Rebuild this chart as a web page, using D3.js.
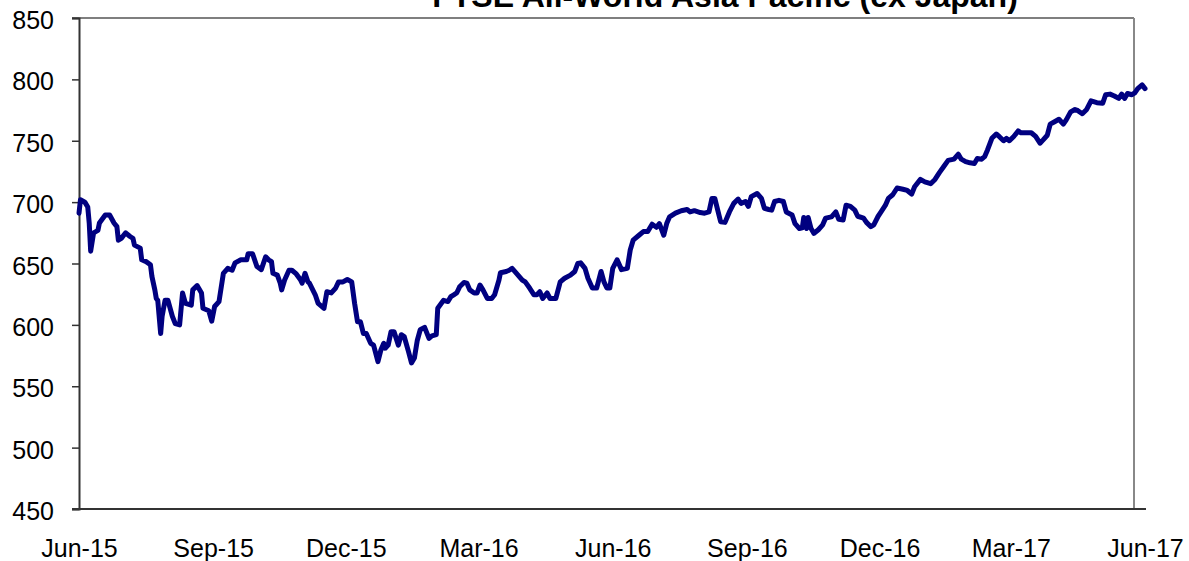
<!DOCTYPE html>
<html>
<head>
<meta charset="utf-8">
<script src="https://cdn.jsdelivr.net/npm/d3@7"></script>
<style>
  body { margin: 0; background: #fff; }
  svg { display: block; }
  text { font-family: "Liberation Sans", Arial, sans-serif; fill: #000; }
</style>
</head>
<body>
<svg id="chart" width="1189" height="561"></svg>
<script>
const TITLE = "FTSE All-World Asia Pacific (ex Japan)";
const START_DATE = new Date(2015, 5, 1);
const END_DATE = new Date(2017, 5, 1);

// days since 1 Jun 2015
const dayOffsets = [
  0, 1, 4, 6, 7, 8, 10, 13, 14, 18,
  21, 24, 26, 27, 29, 32, 35, 37, 38, 42,
  43, 46, 49, 50, 52, 53, 54, 56, 57, 59,
  61, 64, 66, 69, 71, 73, 77, 78, 81, 84,
  85, 89, 91, 93, 96, 99, 102, 105, 107, 111,
  115, 116, 119, 122, 125, 128, 130, 132, 133, 136,
  138, 139, 141, 144, 146, 149, 152, 153, 155, 157,
  158, 162, 164, 168, 170, 173, 176, 178, 181, 184,
  187, 189, 191, 193, 195, 197, 200, 202, 205, 207,
  209, 210, 212, 214, 216, 219, 221, 223, 226, 228,
  230, 232, 234, 237, 240, 242, 245, 246, 250, 253,
  255, 257, 259, 261, 264, 266, 268, 271, 273, 275,
  277, 280, 283, 285, 288, 289, 293, 295, 297, 300,
  304, 306, 309, 312, 314, 316, 318, 321, 323, 327,
  330, 333, 337, 340, 342, 344, 347, 349, 352, 355,
  358, 360, 362, 364, 366, 369, 372, 376, 378, 380,
  384, 387, 390, 393, 396, 398, 401, 403, 405, 409,
  413, 417, 419, 422, 426, 429, 432, 434, 436, 438,
  440, 443, 446, 449, 452, 454, 457, 459, 461, 465,
  468, 470, 473, 475, 477, 480, 483, 485, 489, 491,
  494, 496, 497, 499, 500, 502, 504, 507, 510, 512,
  516, 519, 521, 524, 526, 529, 532, 534, 538, 540,
  543, 545, 548, 550, 553, 555, 558, 561, 565, 568,
  571, 573, 577, 580, 584, 587, 590, 593, 596, 600,
  603, 605, 608, 611, 614, 616, 619, 621, 623, 626,
  629, 631, 634, 636, 638, 641, 644, 646, 650, 653,
  656, 659, 661, 664, 666, 669, 672, 675, 677, 680,
  683, 685, 688, 691, 694, 698, 702, 704, 707, 710,
  713, 715, 717, 719, 722, 724, 726, 729, 731
];

const indexValues = [
  691, 702, 700, 696, 683, 660, 675, 677, 683, 689.5,
  689.5, 683, 680, 669, 670.5, 675, 672, 670.5, 665, 662.5,
  653, 651.5, 649, 639.5, 628.5, 621.5, 620, 593, 607, 620,
  620, 607, 601, 600, 626, 617.5, 616, 628.5, 632, 626,
  613.5, 611.5, 603, 615, 619, 642, 646, 644.5, 650.5, 653,
  653, 658, 658, 647.5, 645, 655.5, 653, 651.5, 642, 640.5,
  634, 628.5, 636.5, 644.5, 644.5, 641.5, 636.5, 634, 642, 635,
  634, 624.5, 617.5, 613.5, 627, 626, 630, 635, 635, 637,
  635, 617.5, 602.5, 602.5, 593, 593, 585, 583.5, 570, 579.5,
  585, 581, 583.5, 594.5, 594.5, 583.5, 592, 590.5, 578, 569,
  573, 587.5, 596, 598, 589, 591, 592, 613.5, 620, 619,
  623, 624.5, 626, 631, 634.5, 634, 628.5, 626, 626, 632.5,
  628.5, 621.5, 621.5, 624.5, 636.5, 642.5, 643.5, 644.5, 646, 642,
  636.5, 635, 630, 624.5, 624.5, 627, 621.5, 626, 621.5, 621.5,
  635, 638, 640.5, 643.5, 650, 650.5, 646, 638, 630, 630,
  643.5, 635, 630, 630, 646, 653, 645, 646, 661, 669,
  673, 676, 676, 682, 679.5, 682.5, 673, 682.5, 688, 691,
  693, 694, 692, 693, 691.5, 691, 692, 703, 703, 693.5,
  684, 683.5, 692, 699, 702.5, 699, 700.5, 696.5, 704.5, 707,
  703, 695, 694, 693.5, 700.5, 701.5, 700.5, 692, 689.5, 682.5,
  678.5, 679, 687.5, 678.5, 687.5, 678.5, 674.5, 677.5, 681.5, 687,
  688, 692, 686, 685.5, 697.5, 696.5, 693.5, 688.5, 687, 683.5,
  680, 681.5, 688.5, 692, 697.5, 703, 706, 711.5, 710.5, 709.5,
  706.5, 712.5, 718.5, 716.5, 715, 718.5, 724, 729, 734, 735,
  739, 735, 733, 732, 731.5, 735.5, 735, 737, 742.5, 752,
  755.5, 753.5, 750, 752, 750, 753.5, 758, 756.5, 756.5, 756.5,
  753.5, 748, 750.5, 754.5, 763.5, 765.5, 767.5, 763.5, 767, 773.5,
  775.5, 774.5, 772, 775.5, 782.5, 781, 780.5, 787.5, 788, 786.5,
  784.5, 788, 784.5, 788.5, 787.5, 789, 792.5, 795.5, 792.5
];

const yTicks = [450, 500, 550, 600, 650, 700, 750, 800, 850];

const series = dayOffsets.map((d, i) => ({
  date: d3.timeDay.offset(START_DATE, d),
  value: indexValues[i],
}));

const margin = { left: 79, right: 1145, top: 18, bottom: 509 };
const plotRight = 1134;

const svg = d3.select("#chart");

const x = d3.scaleTime().domain([START_DATE, END_DATE]).range([margin.left, margin.right]);
const y = d3.scaleLinear().domain([450, 850]).range([margin.bottom, margin.top]);

// frame: top border and grey right edge
svg.append("line")
  .attr("x1", margin.left - 7).attr("x2", plotRight)
  .attr("y1", y(850)).attr("y2", y(850))
  .attr("stroke", "#000").attr("stroke-width", 1.2);

svg.append("line")
  .attr("x1", plotRight).attr("x2", plotRight)
  .attr("y1", y(850)).attr("y2", y(450))
  .attr("stroke", "#888").attr("stroke-width", 2);

// y axis
const yAxis = svg.append("g")
  .attr("transform", `translate(${margin.left},0)`)
  .call(d3.axisLeft(y).tickValues(yTicks).tickSize(7).tickPadding(18).tickFormat(d3.format("d")));
yAxis.select(".domain").attr("stroke", "#333").attr("stroke-width", 2);
yAxis.selectAll(".tick line").attr("stroke", "#333").attr("stroke-width", 1.5);
yAxis.selectAll("text").attr("font-size", 25).attr("dy", "0.42em").attr("fill", "#000");

// x axis
const monthTicks = d3.timeMonth.range(START_DATE, d3.timeDay.offset(END_DATE, 1), 3);
const xAxis = svg.append("g")
  .attr("transform", `translate(0,${margin.bottom})`)
  .call(d3.axisBottom(x).tickValues(monthTicks).tickSize(0).tickFormat(d3.timeFormat("%b-%y")));
xAxis.select(".domain").remove();
xAxis.selectAll("text").attr("font-size", 25).attr("y", 47.5).attr("dy", 0).attr("fill", "#000");

svg.append("line")
  .attr("x1", margin.left - 7).attr("x2", margin.right + 1)
  .attr("y1", y(450)).attr("y2", y(450))
  .attr("stroke", "#333").attr("stroke-width", 2);

// index line
const line = d3.line()
  .x((d) => x(d.date))
  .y((d) => y(d.value));

svg.append("path")
  .datum(series)
  .attr("fill", "none")
  .attr("stroke", "#000080")
  .attr("stroke-width", 5)
  .attr("stroke-linejoin", "round")
  .attr("stroke-linecap", "round")
  .attr("d", line);

// title, clipped at top like the original
svg.append("text")
  .attr("x", 725)
  .attr("y", 7)
  .attr("text-anchor", "middle")
  .attr("font-size", 32)
  .attr("font-weight", "bold")
  .text(TITLE);
</script>
</body>
</html>
